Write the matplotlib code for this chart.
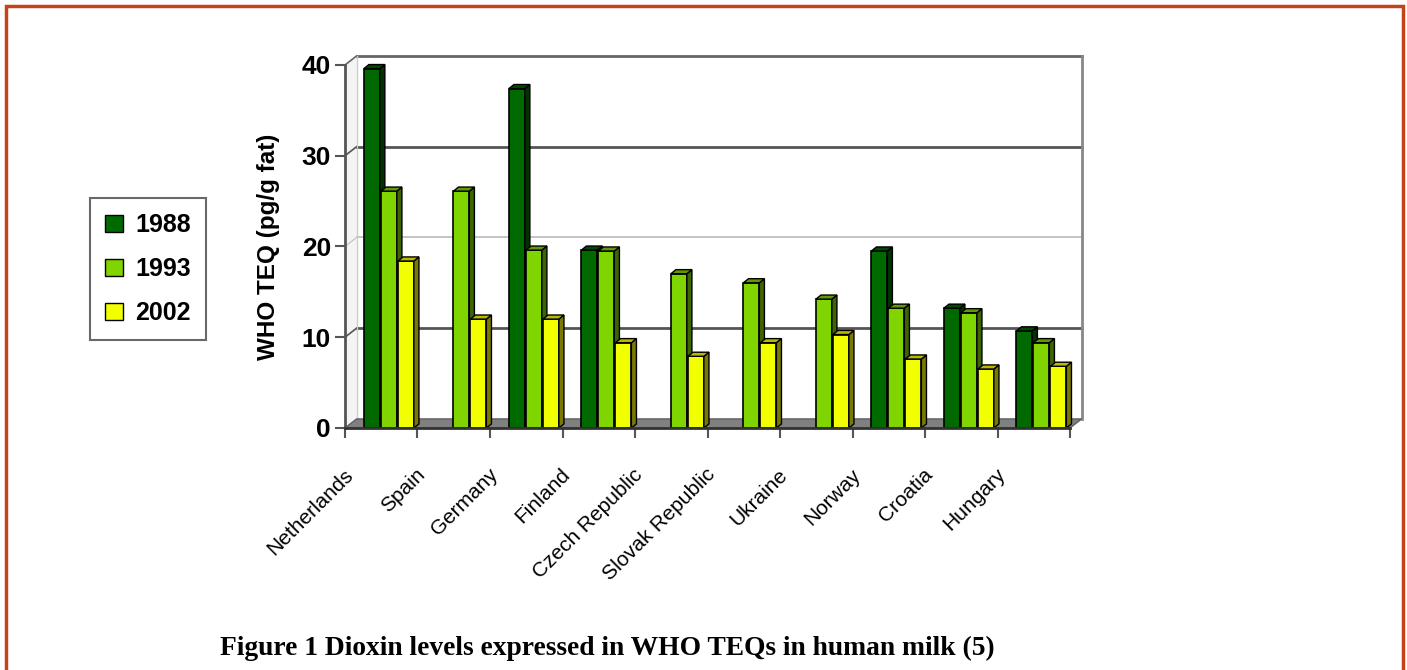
import matplotlib.pyplot as plt
from matplotlib.patches import Polygon, Patch, Rectangle
from matplotlib.transforms import ScaledTranslation

# Dioxin levels in human milk, WHO TEQ (pg/g fat)
countries = ["Netherlands", "Spain", "Germany", "Finland", "Czech Republic",
             "Slovak Republic", "Ukraine", "Norway", "Croatia", "Hungary"]
years = ["1988", "1993", "2002"]
v1988 = [39.6, None, 37.4, 19.6, None, None, None, 19.5, 13.2, 10.7]
v1993 = [26.1, 26.1, 19.6, 19.5, 17.0, 16.0, 14.2, 13.2, 12.7, 9.4]
v2002 = [18.4, 12.0, 12.0, 9.4, 7.9, 9.4, 10.3, 7.6, 6.5, 6.8]
series = [v1988, v1993, v2002]

front = ["#006a00", "#80d400", "#f2ff00"]
side = ["#003300", "#3d6600", "#7a7a00"]
top = ["#004a00", "#5e9a00", "#b8b800"]

fig = plt.figure(figsize=(14.07, 6.70), dpi=100)
ax = fig.add_axes([0.2452, 0.3612, 0.5153, 0.5418])
n = len(countries)
ax.set_xlim(-0.5, n - 0.5)
ax.set_ylim(0, 40)

# depth of the back wall and of each bar, in data units
wdx, wdy = 0.16, 1.0
bdx, bdy = 0.07, 0.45

# floor and back wall
ax.add_patch(Polygon([(-0.5, 0), (n - 0.5, 0), (n - 0.5 + wdx, wdy), (-0.5 + wdx, wdy)],
                     closed=True, fc="#808080", ec="#606060", lw=1, clip_on=False, zorder=1))
ax.add_patch(Polygon([(-0.5, 0), (-0.5 + wdx, wdy), (-0.5 + wdx, 40 + wdy), (-0.5, 40)],
                     closed=True, fc="#f4f4f4", ec="none", clip_on=False, zorder=0))
for g, c, w in [(10, "#555555", 2), (20, "#bbbbbb", 1.2), (30, "#555555", 2), (40, "#666666", 2)]:
    ax.plot([-0.5 + wdx, n - 0.5 + wdx], [g + wdy, g + wdy], color=c, lw=w, clip_on=False, zorder=0.5)
    ax.plot([-0.5, -0.5 + wdx], [g, g + wdy], color=c, lw=w * 0.6, clip_on=False, zorder=0.5)
ax.plot([n - 0.5 + wdx, n - 0.5 + wdx], [wdy, 40 + wdy], color="#888888", lw=2, clip_on=False, zorder=0.5)
ax.plot([-0.5 + wdx, -0.5 + wdx], [wdy, 40 + wdy], color="#cccccc", lw=1, clip_on=False, zorder=0.5)

# 3D-looking columns
bw = 0.22
for j, vals in enumerate(series):
    for i, v in enumerate(vals):
        if v is None:
            continue
        x0 = i - 0.5 + 0.26 + j * 0.235
        ax.bar(x0, v, width=bw, align="edge", color=front[j], edgecolor="black",
               lw=1.2, zorder=3 + i * 3 + j)
        ax.add_patch(Polygon([(x0 + bw, 0), (x0 + bw + bdx, bdy), (x0 + bw + bdx, v + bdy), (x0 + bw, v)],
                             closed=True, fc=side[j], ec="black", lw=1, zorder=3 + i * 3 + j, clip_on=False))
        ax.add_patch(Polygon([(x0, v), (x0 + bw, v), (x0 + bw + bdx, v + bdy), (x0 + bdx, v + bdy)],
                             closed=True, fc=top[j], ec="black", lw=1, zorder=3 + i * 3 + j, clip_on=False))

# axes styling
for s in ["top", "right"]:
    ax.spines[s].set_visible(False)
ax.spines["left"].set_color("#555555")
ax.spines["left"].set_linewidth(2)
ax.spines["bottom"].set_color("#333333")
ax.spines["bottom"].set_linewidth(2)
ax.spines["bottom"].set_zorder(50)
ax.set_yticks([0, 10, 20, 30, 40])
ax.set_yticklabels(["0", "10", "20", "30", "40"], fontsize=19, fontweight="bold",
                   family="Liberation Sans")
ax.tick_params(axis="y", length=7, width=1.5, color="#555555", pad=3)
ax.set_xticks([k - 0.5 for k in range(n + 1)])
ax.set_xticklabels([])
ax.tick_params(axis="x", length=7, width=1.5, color="#555555")
ax.set_ylabel("WHO TEQ (pg/g fat)", fontsize=17.5, fontweight="bold",
              family="Liberation Sans", labelpad=16)
ax.patch.set_alpha(0)

# rotated category names
shift = ScaledTranslation(-38 / 100, -37 / 100, fig.dpi_scale_trans)
for i, name in enumerate(countries):
    ax.text(i, 0, name, rotation=45, ha="right", va="top", rotation_mode="anchor",
            fontsize=15, family="Liberation Sans", transform=ax.transData + shift)

# legend
handles = [Patch(fc=front[k], ec="black", lw=1) for k in range(3)]
leg = fig.legend(handles, years, loc="upper left", bbox_to_anchor=(90 / 1407, 1 - 198 / 670),
                 borderaxespad=0, frameon=True, fancybox=False, edgecolor="#444444",
                 handlelength=0.7, handleheight=0.7, handletextpad=0.5, labelspacing=0.8,
                 borderpad=0.6, prop={"family": "Liberation Sans", "weight": "bold", "size": 18})
leg.get_frame().set_linewidth(1.5)

fig.text(220 / 1407, 1 - 648 / 670, "Figure 1 Dioxin levels expressed in WHO TEQs in human milk (5)",
         fontsize=19.8, fontweight="bold", family="Liberation Serif", va="center")

fig.add_artist(Rectangle((6 / 1407, -0.05), 1397 / 1407, 1 - 6 / 670 + 0.05, transform=fig.transFigure,
                         fill=False, ec="#c2441c", lw=2.5))

fig.savefig("out.png", dpi=100)
